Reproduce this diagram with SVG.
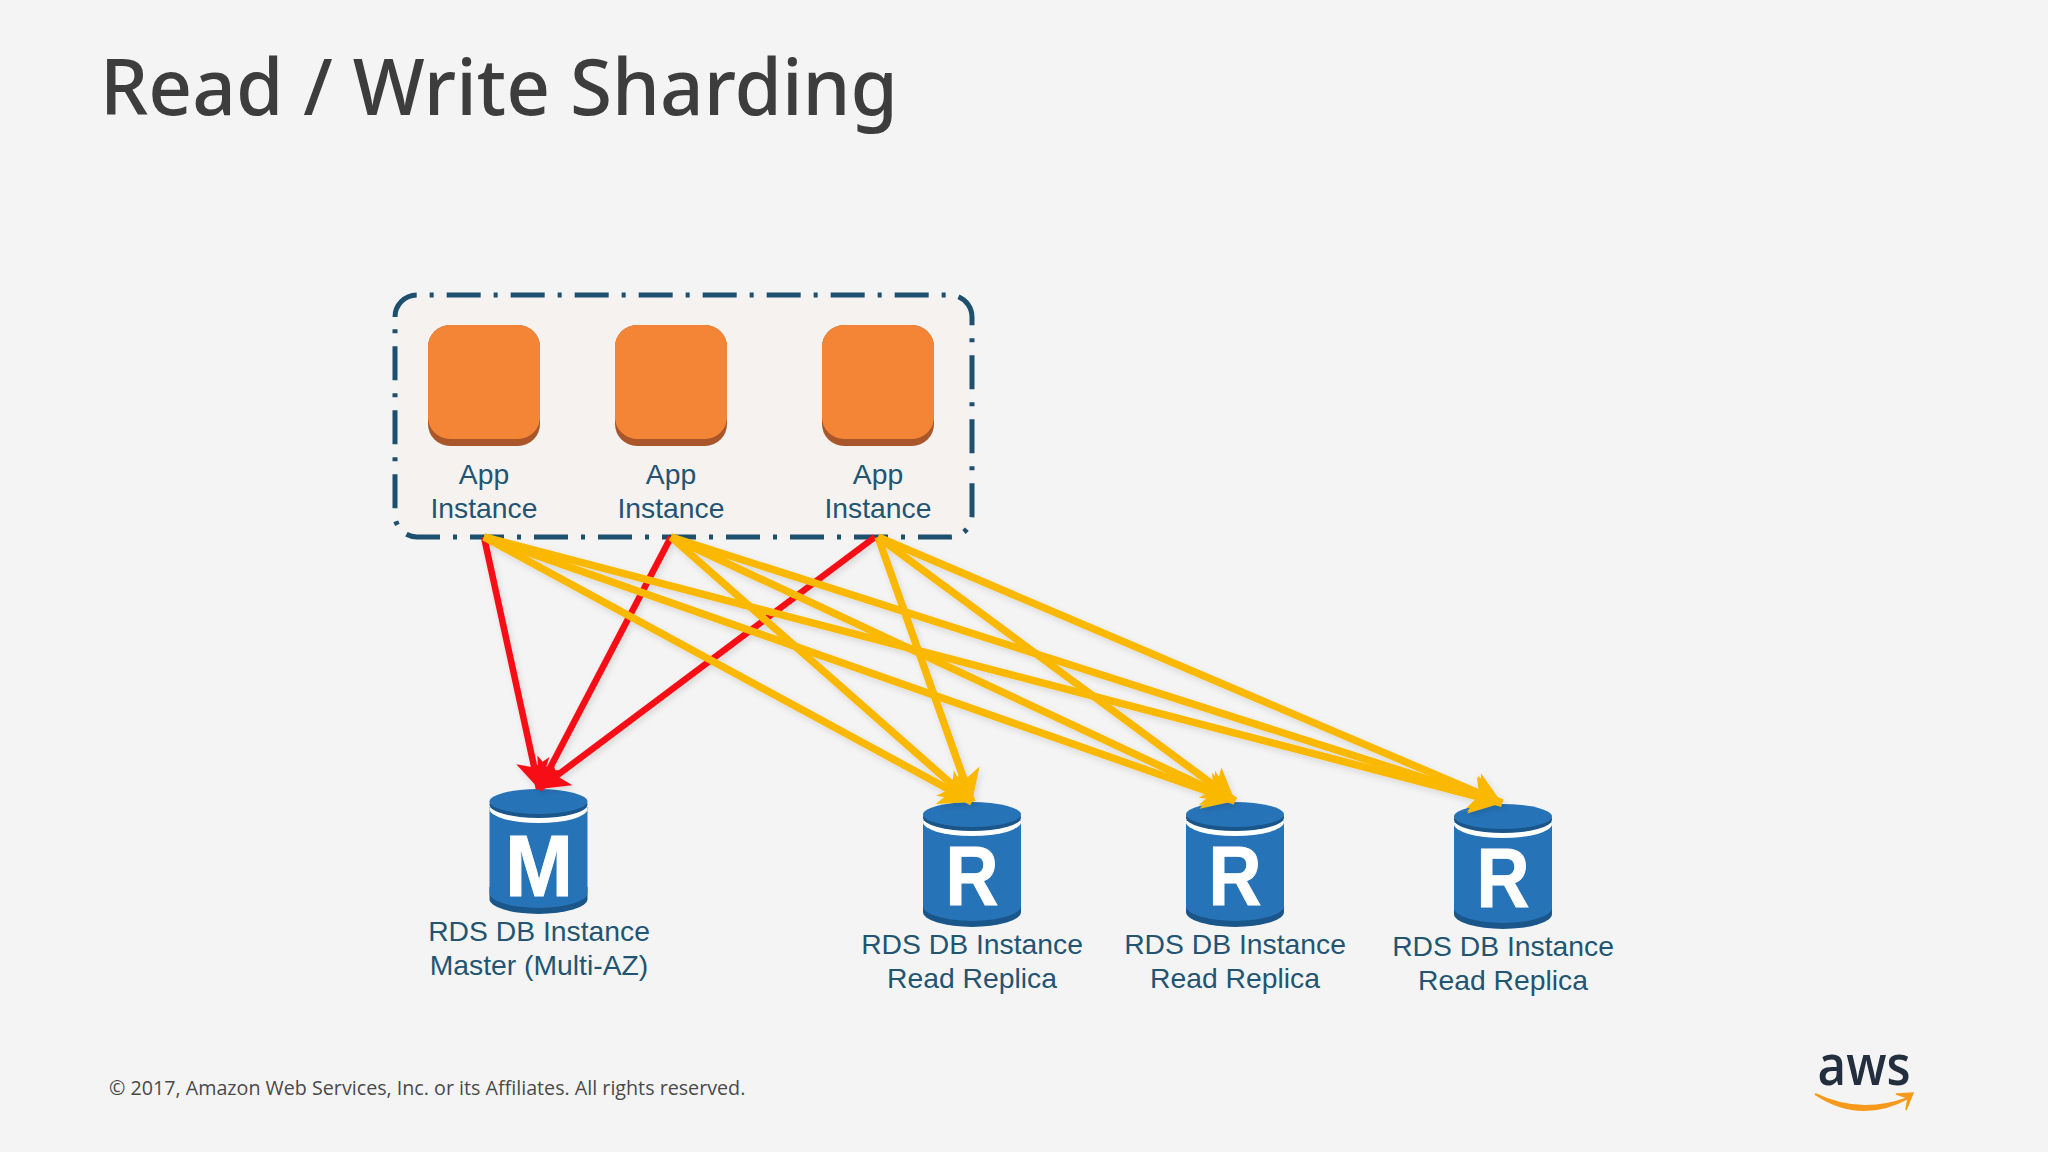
<svg xmlns="http://www.w3.org/2000/svg" xmlns:xlink="http://www.w3.org/1999/xlink" width="2048" height="1152" viewBox="0 0 2048 1152">
<style>
.lbl{font-family:"Liberation Sans",Arial,sans-serif;font-size:28.3px;fill:#235472;text-anchor:middle}
.let{font-family:"Liberation Sans",Arial,sans-serif;font-weight:700;fill:#fff;stroke:#fff;stroke-width:1;text-anchor:middle}
.y{fill:none;stroke:#fbb800;stroke-width:7.5;marker-end:url(#ah-y)}
.r{fill:none;stroke:#f70f17;stroke-width:6.5;marker-end:url(#ah-r)}
</style>
<defs>
<marker id="ah-y" markerUnits="userSpaceOnUse" markerWidth="44" markerHeight="44" refX="34" refY="22" orient="auto"><path d="M34,22 L3,3 L11,22 L3,41 Z" fill="#fbb800"/></marker>
<marker id="ah-r" markerUnits="userSpaceOnUse" markerWidth="44" markerHeight="44" refX="34" refY="22" orient="auto"><path d="M34,22 L5,5 L12,22 L5,39 Z" fill="#f70f17"/></marker>
<filter id="sh" x="-5%" y="-5%" width="110%" height="110%"><feDropShadow dx="2" dy="3" stdDeviation="3" flood-color="#000" flood-opacity="0.12"/></filter>
<g id="cyl">
<path d="M-49,98 V110 A49,15 0 0 0 49,110 V98 Z" fill="#1a5689"/>
<path d="M-49,18 V104 A49,15 0 0 0 49,104 V18 Z" fill="#2773b8"/>
<ellipse cx="0" cy="20" rx="49" ry="14" fill="#fff"/>
<ellipse cx="0" cy="15.5" rx="49" ry="13.5" fill="#1a5689"/>
<ellipse cx="0" cy="12.5" rx="49" ry="12.5" fill="#2773b8"/>
</g>
<g id="app">
<rect x="0" y="0" width="112" height="121" rx="22" fill="#a9562a"/>
<rect x="0" y="0" width="112" height="114" rx="22" fill="#f58536"/>
</g>
</defs>
<rect width="2048" height="1152" fill="#f4f4f4"/>
<text x="100" y="115" font-family="'Noto Sans',sans-serif" font-weight="500" font-size="78" fill="#3d3d3d" textLength="798" lengthAdjust="spacingAndGlyphs">Read / Write Sharding</text>
<g id="group-box">
<path d="M395,317 A22,22 0 0 1 417,295 H950 A22,22 0 0 1 972,317 V515 A22,22 0 0 1 950,537 H417 A22,22 0 0 1 395,515 Z" fill="#f5f2f0" stroke="#1d4f6e" stroke-width="5" stroke-dasharray="34 13 4 13"/>
</g>
<g id="app-1"><use xlink:href="#app" href="#app" x="428" y="325"/><text class="lbl" x="484" y="484">App</text><text class="lbl" x="484" y="518">Instance</text></g>
<g id="app-2"><use xlink:href="#app" href="#app" x="615" y="325"/><text class="lbl" x="671" y="484">App</text><text class="lbl" x="671" y="518">Instance</text></g>
<g id="app-3"><use xlink:href="#app" href="#app" x="822" y="325"/><text class="lbl" x="878" y="484">App</text><text class="lbl" x="878" y="518">Instance</text></g>
<g id="db-master"><use xlink:href="#cyl" href="#cyl" x="538.5" y="789"/><text class="let" x="539" y="896" font-size="88" textLength="68" lengthAdjust="spacingAndGlyphs">M</text><text class="lbl" x="539" y="941">RDS DB Instance</text><text class="lbl" x="539" y="975">Master (Multi-AZ)</text></g>
<g id="db-r1"><use xlink:href="#cyl" href="#cyl" x="972" y="802"/><text class="let" x="972" y="905" font-size="83" textLength="53" lengthAdjust="spacingAndGlyphs">R</text><text class="lbl" x="972" y="954">RDS DB Instance</text><text class="lbl" x="972" y="988">Read Replica</text></g>
<g id="db-r2"><use xlink:href="#cyl" href="#cyl" x="1235" y="802"/><text class="let" x="1235" y="905" font-size="83" textLength="53" lengthAdjust="spacingAndGlyphs">R</text><text class="lbl" x="1235" y="954">RDS DB Instance</text><text class="lbl" x="1235" y="988">Read Replica</text></g>
<g id="db-r3"><use xlink:href="#cyl" href="#cyl" x="1503" y="804"/><text class="let" x="1503" y="907" font-size="83" textLength="53" lengthAdjust="spacingAndGlyphs">R</text><text class="lbl" x="1503" y="956">RDS DB Instance</text><text class="lbl" x="1503" y="990">Read Replica</text></g>
<g id="connectors" filter="url(#sh)">
<line class="r" x1="484" y1="537" x2="539" y2="789"/>
<line class="r" x1="671" y1="537" x2="539" y2="789"/>
<line class="r" x1="875" y1="537" x2="539" y2="789"/>
<line class="y" x1="484" y1="537" x2="972" y2="802"/>
<line class="y" x1="484" y1="537" x2="1235" y2="801"/>
<line class="y" x1="484" y1="537" x2="1502" y2="803"/>
<line class="y" x1="671" y1="537" x2="972" y2="802"/>
<line class="y" x1="671" y1="537" x2="1235" y2="801"/>
<line class="y" x1="671" y1="537" x2="1502" y2="803"/>
<line class="y" x1="878" y1="537" x2="972" y2="802"/>
<line class="y" x1="878" y1="537" x2="1235" y2="801"/>
<line class="y" x1="878" y1="537" x2="1502" y2="803"/>
</g>
<text x="109" y="1095" font-family="'Open Sans',sans-serif" font-size="19.7" fill="#4a4a4a">© 2017, Amazon Web Services, Inc. or its Affiliates. All rights reserved.</text>
<g id="aws-logo">
<text x="1864" y="1085" font-family="'Open Sans',sans-serif" font-size="56" font-weight="600" fill="#232f3e" text-anchor="middle" textLength="93" lengthAdjust="spacingAndGlyphs">aws</text>
<path d="M1815,1094 Q1860,1124 1908,1098 Q1860,1116 1815,1094 Z" fill="#f79a1c" stroke="#f79a1c" stroke-width="2"/>
<path d="M1896,1094 L1913,1093 L1906,1110 L1908,1098 Z" fill="#f79a1c" stroke="#f79a1c" stroke-width="1.5"/>
</g>
</svg>
